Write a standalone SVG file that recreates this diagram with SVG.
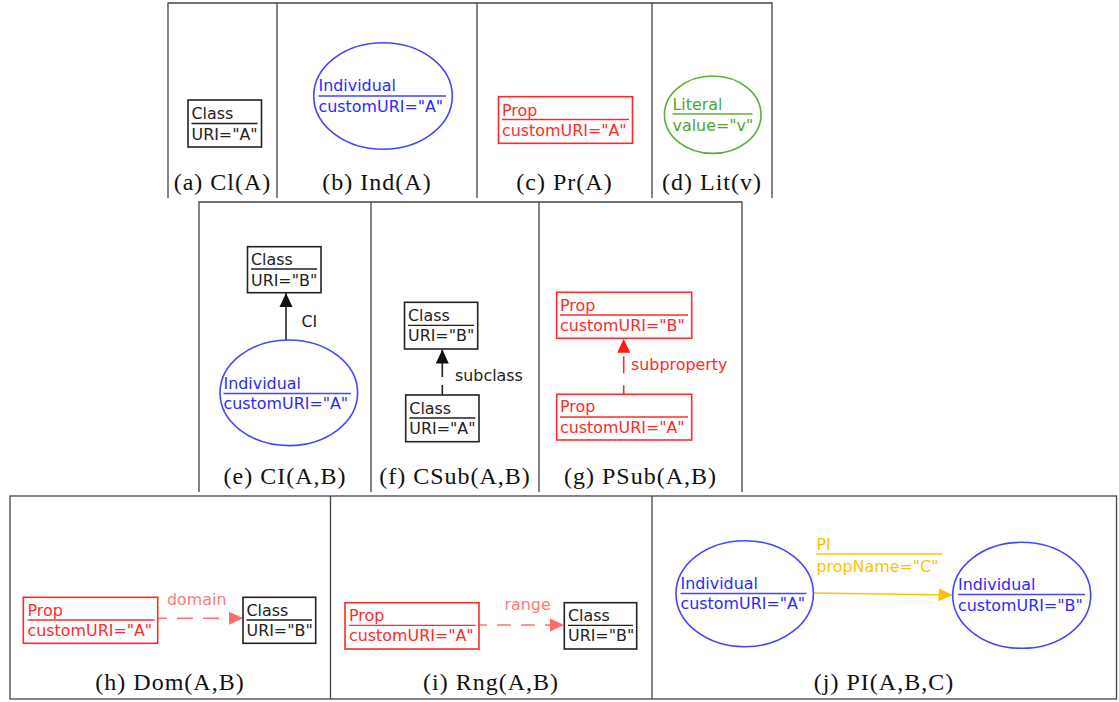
<svg xmlns="http://www.w3.org/2000/svg" width="1119" height="702" viewBox="0 0 1119 702">
<style>
.frame{fill:none;stroke:#444;stroke-width:1.3}
.box{fill:#fff;stroke-width:1.6}
.t{font-family:"DejaVu Sans",sans-serif;font-size:15.9px}
.cap{font-family:"Liberation Serif",serif;font-size:24px;fill:#111;text-anchor:middle;letter-spacing:1px}
.blk{fill:#222}.blkS{stroke:#222}
.red{fill:#ff2a2a}.redS{stroke:#ff2a2a}
.blu{fill:#2a2aff}.bluS{stroke:#4545ff}
.grn{fill:#4ea52c}.grnS{stroke:#5aae3a}
.yel{fill:#ffbf00}.yelS{stroke:#ffc20e}
.pnk{fill:#ff7a7a}.pnkS{stroke:#ff7070}
.sep{stroke-width:1.3}
.edge{fill:none;stroke-width:1.6}
</style>
<defs>
<marker id="ahBlk" viewBox="0 0 14 14" refX="14" refY="7" markerWidth="14" markerHeight="14" markerUnits="userSpaceOnUse" orient="auto"><path d="M0,0.5 L14,7 L0,13.5 z" fill="#111"/></marker>
<marker id="ahRed" viewBox="0 0 14 14" refX="14" refY="7" markerWidth="14" markerHeight="14" markerUnits="userSpaceOnUse" orient="auto"><path d="M0,0.5 L14,7 L0,13.5 z" fill="#ff1a1a"/></marker>
<marker id="ahPnk" viewBox="0 0 14 14" refX="14" refY="7" markerWidth="14" markerHeight="14" markerUnits="userSpaceOnUse" orient="auto"><path d="M0,0.5 L14,7 L0,13.5 z" fill="#ff6a6a"/></marker>
<marker id="ahYel" viewBox="0 0 14 14" refX="14" refY="7" markerWidth="14" markerHeight="14" markerUnits="userSpaceOnUse" orient="auto"><path d="M0,0.5 L14,7 L0,13.5 z" fill="#ffbf00"/></marker>
</defs>

<g id="frames">
<path class="frame" d="M168,198 V3 H772 V198 M277,3 V198 M477,3 V198 M652,3 V198"/>
<path class="frame" d="M199,492 V202 H742 V492 M371,202 V492 M539,202 V492"/>
<rect class="frame" x="10" y="496" width="1106.5" height="203"/>
<path class="frame" d="M330.5,496 V699 M652,496 V699"/>
</g>

<g id="captions">
<text class="cap" x="222.5" y="190">(a) Cl(A)</text>
<text class="cap" x="377" y="190">(b) Ind(A)</text>
<text class="cap" x="564.5" y="190">(c) Pr(A)</text>
<text class="cap" x="712" y="190">(d) Lit(v)</text>
<text class="cap" x="285" y="484">(e) CI(A,B)</text>
<text class="cap" x="455" y="484">(f) CSub(A,B)</text>
<text class="cap" x="640.5" y="484">(g) PSub(A,B)</text>
<text class="cap" x="170" y="690">(h) Dom(A,B)</text>
<text class="cap" x="491" y="690">(i) Rng(A,B)</text>
<text class="cap" x="884" y="690">(j) PI(A,B,C)</text>
</g>

<g id="connectors">
<line class="edge blkS" x1="286" y1="340" x2="286" y2="293" marker-end="url(#ahBlk)"/>
<text class="t blk" x="301.5" y="327">CI</text>
<line class="edge blkS" x1="442.3" y1="395" x2="442.3" y2="349.5" stroke-dasharray="10 8 16 8" marker-end="url(#ahBlk)"/>
<text class="t blk" x="455" y="381">subclass</text>
<line class="edge redS" x1="623.7" y1="394.3" x2="623.7" y2="338.8" stroke-dasharray="9 12 17 20" marker-end="url(#ahRed)"/>
<text class="t red" x="631" y="370">subproperty</text>
<line class="edge pnkS" x1="158" y1="618.3" x2="243" y2="618.3" stroke-dasharray="16 10" stroke-dashoffset="7" marker-end="url(#ahPnk)"/>
<text class="t pnk" x="167" y="604.5">domain</text>
<line class="edge pnkS" x1="479" y1="625" x2="564" y2="625" stroke-dasharray="14 10" stroke-dashoffset="6" marker-end="url(#ahPnk)"/>
<text class="t pnk" x="504.5" y="609.5">range</text>
<line class="edge yelS" x1="813.5" y1="593" x2="952.5" y2="595" marker-end="url(#ahYel)"/>
<text class="t yel" x="816.5" y="549.5">PI</text>
<line class="sep yelS" x1="816.5" y1="554" x2="942" y2="554"/>
<text class="t yel" x="816.5" y="572">propName="C"</text>
</g>

<g id="a-class">
<rect class="box blkS" x="188" y="100" width="73.5" height="47"/>
<text class="t blk" x="191.5" y="119">Class</text>
<line class="sep blkS" x1="191.5" y1="123.5" x2="257.5" y2="123.5"/>
<text class="t blk" x="191.5" y="139.5">URI="A"</text>
</g>

<g id="b-individual">
<ellipse class="box bluS" cx="383" cy="96" rx="69.3" ry="53.3"/>
<text class="t blu" x="318.5" y="91">Individual</text>
<line class="sep bluS" x1="318.5" y1="96" x2="446" y2="96"/>
<text class="t blu" x="318.5" y="111.5">customURI="A"</text>
</g>

<g id="c-prop">
<rect class="box redS" x="498.5" y="96.7" width="134" height="46.6"/>
<text class="t red" x="502" y="115.5">Prop</text>
<line class="sep redS" x1="502" y1="119.5" x2="629" y2="119.5"/>
<text class="t red" x="502" y="135.5">customURI="A"</text>
</g>

<g id="d-literal">
<ellipse class="box grnS" cx="712.7" cy="114.7" rx="48.3" ry="38.7"/>
<text class="t grn" x="672.5" y="109.5">Literal</text>
<line class="sep grnS" x1="672.5" y1="114" x2="752.5" y2="114"/>
<text class="t grn" x="672.5" y="130.5">value="v"</text>
</g>

<g id="e-classB">
<rect class="box blkS" x="247.5" y="246.7" width="73.5" height="46"/>
<text class="t blk" x="251" y="264.5">Class</text>
<line class="sep blkS" x1="251" y1="269" x2="317" y2="269"/>
<text class="t blk" x="251" y="285.5">URI="B"</text>
</g>
<g id="e-individualA">
<ellipse class="box bluS" cx="288.8" cy="392.8" rx="68.8" ry="52.8"/>
<text class="t blu" x="223.5" y="388.5">Individual</text>
<line class="sep bluS" x1="223.5" y1="393.5" x2="351" y2="393.5"/>
<text class="t blu" x="223.5" y="409">customURI="A"</text>
</g>

<g id="f-classB">
<rect class="box blkS" x="404.5" y="302.3" width="73.2" height="46.7"/>
<text class="t blk" x="408" y="321">Class</text>
<line class="sep blkS" x1="408" y1="325.3" x2="474" y2="325.3"/>
<text class="t blk" x="408" y="341">URI="B"</text>
</g>
<g id="f-classA">
<rect class="box blkS" x="405.7" y="395" width="73.3" height="46.7"/>
<text class="t blk" x="409.3" y="413.5">Class</text>
<line class="sep blkS" x1="409.3" y1="418" x2="475.3" y2="418"/>
<text class="t blk" x="409.3" y="433.5">URI="A"</text>
</g>

<g id="g-propB">
<rect class="box redS" x="556.7" y="292.3" width="135" height="46"/>
<text class="t red" x="560" y="310.5">Prop</text>
<line class="sep redS" x1="560" y1="315" x2="688" y2="315"/>
<text class="t red" x="560" y="331">customURI="B"</text>
</g>
<g id="g-propA">
<rect class="box redS" x="556.7" y="394.3" width="135" height="45.7"/>
<text class="t red" x="560" y="412">Prop</text>
<line class="sep redS" x1="560" y1="417" x2="688" y2="417"/>
<text class="t red" x="560" y="432.5">customURI="A"</text>
</g>

<g id="h-prop">
<rect class="box redS" x="23.3" y="597.3" width="134.4" height="46"/>
<text class="t red" x="27.5" y="615.5">Prop</text>
<line class="sep redS" x1="27.5" y1="620" x2="154.5" y2="620"/>
<text class="t red" x="27.5" y="636">customURI="A"</text>
</g>
<g id="h-classB">
<rect class="box blkS" x="243" y="597.3" width="72.7" height="46"/>
<text class="t blk" x="246.5" y="615.5">Class</text>
<line class="sep blkS" x1="246.5" y1="620" x2="312" y2="620"/>
<text class="t blk" x="246.5" y="636">URI="B"</text>
</g>

<g id="i-prop">
<rect class="box redS" x="345" y="602.7" width="134" height="46.3"/>
<text class="t red" x="349" y="621">Prop</text>
<line class="sep redS" x1="349" y1="625.3" x2="475.5" y2="625.3"/>
<text class="t red" x="349" y="641">customURI="A"</text>
</g>
<g id="i-classB">
<rect class="box blkS" x="564.3" y="602.7" width="72.4" height="46.3"/>
<text class="t blk" x="568" y="621">Class</text>
<line class="sep blkS" x1="568" y1="625.3" x2="633" y2="625.3"/>
<text class="t blk" x="568" y="641">URI="B"</text>
</g>

<g id="j-individualA">
<ellipse class="box bluS" cx="744.7" cy="593.7" rx="68.7" ry="53"/>
<text class="t blu" x="680.5" y="588.5">Individual</text>
<line class="sep bluS" x1="680.5" y1="593.5" x2="806.5" y2="593.5"/>
<text class="t blu" x="680.5" y="609">customURI="A"</text>
</g>
<g id="j-individualB">
<ellipse class="box bluS" cx="1021.7" cy="595.3" rx="69" ry="53"/>
<text class="t blu" x="958" y="590">Individual</text>
<line class="sep bluS" x1="958" y1="594.5" x2="1085" y2="594.5"/>
<text class="t blu" x="958" y="610.5">customURI="B"</text>
</g>
</svg>
